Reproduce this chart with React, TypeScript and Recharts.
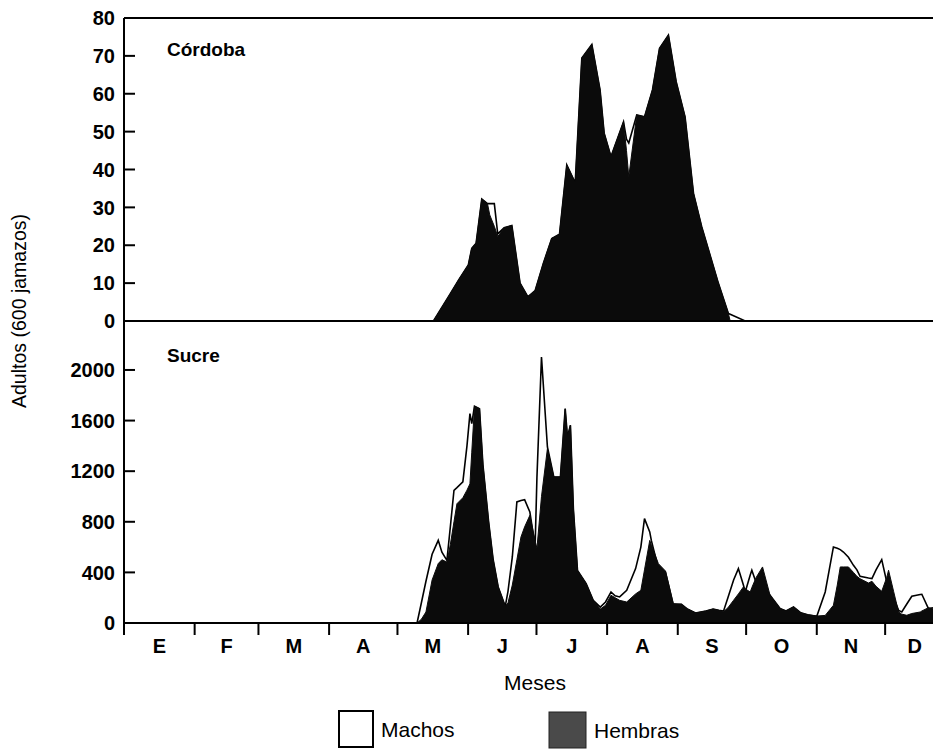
import React from "react";
import { AreaChart, Area, XAxis, YAxis, ReferenceLine } from "recharts";

// month initials and the day of year each month starts on
const monthLabels = ["E", "F", "M", "A", "M", "J", "J", "A", "S", "O", "N", "D"];
const monthStarts = [0, 31, 59, 90, 120, 151, 181, 212, 243, 273, 304, 334];
const lastDay = 355;
const monthEnds = [...monthStarts.slice(1), 360];
const monthMids = monthStarts.map((s, i) => (s + monthEnds[i]) / 2);

// Córdoba — adults per 600 jamazos
const cordobaDays = [
  0, 135.8, 143, 147, 151.1, 152.6, 154.5, 157, 159.5, 160.5, 162.5, 164, 166.8, 170.2, 173.8, 177.2,
  180.4, 184, 187.7, 191.1, 194.3, 198, 200.9, 205.3, 208.9, 210.7, 213.7, 219.2, 220.5, 221.5, 225,
  228.4, 231.9, 235, 238.9, 242.3, 246.2, 249.9, 253.5, 260.8, 265.2, 266, 272.6, 355,
];
const cordobaMachos = [
  0, 0, 7, 11, 14.8, 19.2, 20.5, 32.2, 31, 31, 31, 23, 24.6, 25.2, 10, 6.4,
  8, 15.2, 21.8, 22.9, 41.2, 36.5, 69.4, 73, 61, 49.6, 43.4, 52.6, 48, 47, 54.4,
  53.9, 61, 72, 75.5, 63.2, 53.9, 33.7, 24.9, 10, 2, 1.8, 0, 0,
];
const cordobaHembras = [
  0, 0, 7, 11, 14.8, 19.2, 20.5, 32.2, 31, 28, 25, 22.3, 24.6, 25.2, 10, 6.4,
  8, 15.2, 21.8, 22.9, 41.2, 36.5, 69.4, 73, 61, 49.6, 43.4, 52.6, 45, 38.1, 54.4,
  53.9, 61, 72, 75.5, 63.2, 53.9, 33.7, 24.9, 10, 2, 0, 0, 0,
];

// Sucre
const sucreDays = [
  0, 124, 128.6, 130.5, 132.5, 135.2, 137.9, 139.5, 141.7, 143.2, 144.8, 146.1, 148.7, 150.5, 151.8,
  152.6, 153.8, 156, 157.5, 160, 162, 164.2, 167.3, 168.5, 170.4, 172.4, 174.2, 175.8, 178.1, 180.4,
  181.2, 183.2, 185.8, 188.6, 191.5, 193.6, 194.6, 195.9, 197.2, 199, 202.8, 205.9, 209, 211.3, 213.7,
  215.5, 217.5, 220.6, 224.5, 226.8, 228.4, 230.7, 231.4, 234.5, 237.6, 241, 244.6, 247, 250.8, 255.4,
  258.5, 261, 263.1, 265, 267.5, 269.6, 271.8, 272.6, 274.8, 275.5, 277.4, 280.2, 283.5, 287.9, 290.5,
  293.8, 297, 300, 304, 307.7, 311.3, 313, 314.3, 315.7, 317.9, 320.1, 321.6, 323, 326.7, 328.2,
  330, 332.5, 334.7, 335.5, 337.7, 339.9, 341.3, 343.5, 345.7, 349.4, 350.1, 353, 355,
];
const sucreMachos = [
  0, 0, 0, 160, 330, 543, 653, 560, 495, 760, 1049, 1070, 1115, 1400, 1655,
  1576, 1713, 1694, 1250, 800, 500, 285, 132, 250, 522, 957, 968, 975, 877, 601,
  1150, 2103, 1391, 1154, 1154, 1694, 1470, 1563, 900, 416, 311, 179, 126, 166, 245,
  215, 206, 258, 430, 600, 825, 720, 653, 430, 403, 148, 148, 113, 79, 95,
  110, 100, 95, 200, 340, 430, 300, 245, 380, 417, 319, 300, 219, 114, 95,
  127, 80, 65, 53, 245, 601, 590, 580, 561, 520, 456, 420, 369, 355, 351,
  420, 501, 324, 300, 200, 100, 87, 150, 211, 225, 227, 114, 120,
];
const sucreHembras = [
  0, 0, 0, 30, 87, 340, 470, 500, 482, 620, 800, 943, 990, 1050, 1100,
  1350, 1713, 1694, 1250, 800, 500, 285, 132, 160, 300, 500, 680, 760, 851, 650,
  590, 1000, 1378, 1154, 1154, 1690, 1470, 1563, 900, 416, 311, 179, 110, 140, 219,
  200, 179, 166, 230, 258, 420, 653, 620, 469, 411, 153, 148, 113, 79, 95,
  110, 100, 90, 120, 180, 230, 285, 270, 245, 280, 360, 443, 219, 114, 95,
  127, 80, 65, 55, 60, 140, 300, 443, 443, 443, 400, 369, 350, 316, 330,
  290, 251, 360, 417, 251, 87, 70, 61, 75, 87, 95, 121, 110,
];

const cordobaTicks = [0, 10, 20, 30, 40, 50, 60, 70, 80];
const sucreTicks = [0, 400, 800, 1200, 1600, 2000];

const cordobaData = cordobaDays.map((day, i) => ({
  day,
  machos: cordobaMachos[i],
  hembras: cordobaHembras[i],
}));
const sucreData = sucreDays.map((day, i) => ({
  day,
  machos: sucreMachos[i],
  hembras: sucreHembras[i],
}));

const FONT = '"Liberation Sans", Arial, Helvetica, sans-serif';
const INK = "#000";
const FEMALE = "#0b0b0b";

// y ticks: label outside, short mark pointing into the plot
const makeYTick = (marked: number[]) => (props: any) => {
  const { x, y, payload } = props;
  return (
    <g>
      {marked.includes(payload.value) && (
        <line x1={x} x2={x + 11} y1={y} y2={y} stroke={INK} strokeWidth={2} />
      )}
      <text
        x={x - 9}
        y={y}
        dy="0.36em"
        textAnchor="end"
        fontFamily={FONT}
        fontWeight={700}
        fontSize={20}
        fill={INK}
      >
        {payload.value}
      </text>
    </g>
  );
};

// x ticks: a mark at each month start, the initial centred inside the month
const MonthTick = (props: any) => {
  const { x, y, payload } = props;
  const i = monthMids.indexOf(payload.value);
  if (i >= 0) {
    return (
      <text
        x={x}
        y={y + 23}
        dy="0.36em"
        textAnchor="middle"
        fontFamily={FONT}
        fontWeight={700}
        fontSize={20}
        fill={INK}
      >
        {monthLabels[i]}
      </text>
    );
  }
  return <line x1={x} x2={x} y1={y} y2={y + 12} stroke={INK} strokeWidth={2} />;
};

const seriesAreas = () => [
  <Area
    key="m"
    type="linear"
    dataKey="machos"
    name="Machos"
    fill="#fff"
    fillOpacity={1}
    stroke={INK}
    strokeWidth={1.6}
    isAnimationActive={false}
  />,
  <Area
    key="h"
    type="linear"
    dataKey="hembras"
    name="Hembras"
    fill={FEMALE}
    fillOpacity={1}
    stroke={FEMALE}
    strokeWidth={1}
    isAnimationActive={false}
  />,
];

export default function App() {
  return (
    <div
      style={{
        position: "absolute",
        left: 0,
        top: 0,
        width: 933,
        height: 749,
        background: "#fff",
        fontFamily: FONT,
      }}
    >
      <div style={{ position: "absolute", left: 0, top: 0 }}>
        <AreaChart
          width={933}
          height={331}
          data={cordobaData}
          margin={{ top: 18, right: 0, bottom: 10, left: 0 }}
        >
          <XAxis type="number" dataKey="day" domain={[0, lastDay]} hide />
          <YAxis
            width={124}
            domain={[0, 80]}
            ticks={cordobaTicks}
            interval={0}
            tickLine={false}
            tickSize={0}
            tickMargin={0}
            axisLine={{ stroke: INK, strokeWidth: 2 }}
            tick={makeYTick([10, 20, 30, 40, 50, 60, 70])}
          />
          {seriesAreas()}
          <ReferenceLine y={80} stroke={INK} strokeWidth={2} />
          <ReferenceLine y={0} stroke={INK} strokeWidth={2} />
        </AreaChart>
      </div>

      <div style={{ position: "absolute", left: 0, top: 321 }}>
        <AreaChart
          width={933}
          height={428}
          data={sucreData}
          margin={{ top: 0, right: 0, bottom: 86, left: 0 }}
        >
          <XAxis
            type="number"
            dataKey="day"
            domain={[0, lastDay]}
            ticks={[...monthStarts, ...monthMids]}
            interval={0}
            height={40}
            tickLine={false}
            tickSize={0}
            tickMargin={0}
            axisLine={{ stroke: INK, strokeWidth: 2 }}
            tick={MonthTick}
          />
          <YAxis
            width={124}
            domain={[0, 2387]}
            ticks={sucreTicks}
            interval={0}
            tickLine={false}
            tickSize={0}
            tickMargin={0}
            axisLine={{ stroke: INK, strokeWidth: 2 }}
            tick={makeYTick([400, 800, 1200, 1600, 2000])}
          />
          {seriesAreas()}
        </AreaChart>
      </div>

      <svg
        width={933}
        height={749}
        style={{ position: "absolute", left: 0, top: 0, pointerEvents: "none" }}
      >
        <text x={167} y={56} fontFamily={FONT} fontWeight={700} fontSize={19} fill={INK}>
          Córdoba
        </text>
        <text x={167} y={362} fontFamily={FONT} fontWeight={700} fontSize={19} fill={INK}>
          Sucre
        </text>
        <text
          transform="translate(19,311) rotate(-90)"
          textAnchor="middle"
          dy="0.36em"
          fontFamily={FONT}
          fontSize={19.5}
          fill={INK}
        >
          Adultos (600 jamazos)
        </text>
        <text x={535} y={690} textAnchor="middle" fontFamily={FONT} fontSize={21} fill={INK}>
          Meses
        </text>

        <rect x={339} y={711} width={34} height={36} fill="#fff" stroke={INK} strokeWidth={2} />
        <text x={381} y={737} fontFamily={FONT} fontSize={21} fill={INK}>
          Machos
        </text>
        <rect x={549} y={712} width={37} height={36} fill="#4a4a4a" stroke="#222" strokeWidth={1} />
        <text x={594} y={738} fontFamily={FONT} fontSize={21} fill={INK}>
          Hembras
        </text>
      </svg>
    </div>
  );
}
